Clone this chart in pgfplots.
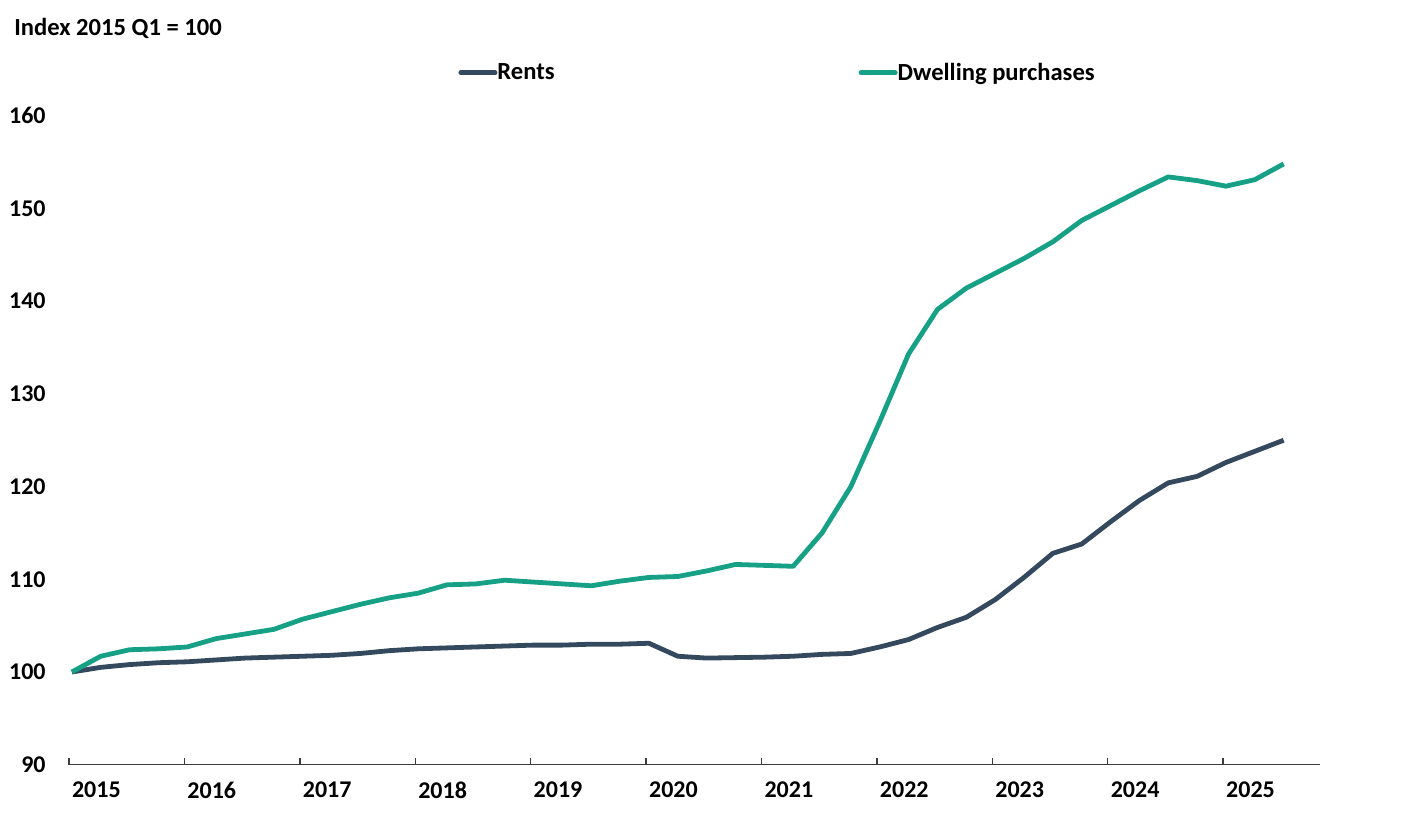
\documentclass[border=0pt]{standalone}
\usepackage{fontspec}
\setmainfont{Carlito}
\usepackage{pgfplots}
\pgfplotsset{compat=1.18}
\usepackage{pgfplotstable}

\definecolor{rentc}{RGB}{52,73,94}
\definecolor{dwellc}{RGB}{22,160,133}
\definecolor{axc}{RGB}{60,60,60}
\newcommand{\cf}{\fontsize{12}{14}\selectfont\bfseries}
\newcommand{\lf}{\fontsize{12.3}{14}\selectfont\bfseries}

% quarter index (0 = 2015 Q1), index 2015 Q1 = 100
\pgfplotstableread{
q rents dwell
0 100.0 100.0
1 100.5 101.7
2 100.8 102.4
3 101.0 102.5
4 101.1 102.7
5 101.3 103.6
6 101.5 104.1
7 101.6 104.6
8 101.7 105.7
9 101.8 106.5
10 102.0 107.3
11 102.3 108.0
12 102.5 108.5
13 102.6 109.4
14 102.7 109.5
15 102.8 109.9
16 102.9 109.7
17 102.9 109.5
18 103.0 109.3
19 103.0 109.8
20 103.1 110.2
21 101.7 110.3
22 101.5 110.9
23 101.55 111.6
24 101.6 111.5
25 101.7 111.4
26 101.9 115.0
27 102.0 120.0
28 102.7 127.0
29 103.5 134.3
30 104.8 139.1
31 105.9 141.4
32 107.8 143.0
33 110.2 144.6
34 112.8 146.4
35 113.8 148.7
36 116.2 150.3
37 118.5 151.9
38 120.4 153.4
39 121.1 153.0
40 122.6 152.4
41 123.8 153.1
42 125.0 154.8
}\idx

\begin{document}
\begin{tikzpicture}
\begin{axis}[
    scale only axis,
    width=625.5pt, height=324.5pt,
    xmin=-0.1, xmax=43.26,
    ymin=90, ymax=160,
    axis lines*=left,
    y axis line style={draw=none},
    x axis line style={draw=axc, line width=0.7pt},
    ytick={90,100,...,160},
    xtick={0.85,4.85,8.85,12.85,16.85,20.85,24.85,28.85,32.85,36.85,40.85},
    xticklabels={2015,2016,2017,2018,2019,2020,2021,2022,2023,2024,2025},
    minor xtick={-0.1,3.9,7.9,11.9,15.9,19.9,23.9,27.9,31.9,35.9,39.9},
    tick align=inside,
    major tick length=0pt,
    minor tick length=3.5pt,
    minor tick style={draw=axc, line width=0.7pt},
    /pgf/number format/assume math mode=true,
    tick label style={font=\cf, text=black},
    xticklabel style={anchor=north, inner sep=0pt, yshift=-8.5pt},
    yticklabel style={anchor=east, inner sep=0pt, xshift=-11.5pt},
    legend style={at={(0.311,1.066)}, anchor=west, draw=none, fill=none,
        inner sep=0pt, font=\lf, legend columns=2,
        /tikz/every odd column/.append style={column sep=-2pt},
        /tikz/every even column/.append style={column sep=150pt}},
    legend image code/.code={\draw[#1, line cap=round] (1.2pt,0pt) -- (18.3pt,0pt);},
]
\addplot[rentc, line width=2.4pt, line join=round] table[x=q, y=rents]{\idx};
\addlegendentry{Rents}
\addplot[dwellc, line width=2.4pt, line join=round] table[x=q, y=dwell]{\idx};
\addlegendentry{Dwelling purchases}
\end{axis}
\node[anchor=base west, inner sep=0pt, font=\lf] at ([shift={(-27.5pt,364.35pt)}]current axis.south west) {Index 2015 Q1 = 100};
\path ([shift={(-34.5pt,-27.65pt)}]current axis.south west) rectangle ++(708pt,410pt);
\end{tikzpicture}
\end{document}
